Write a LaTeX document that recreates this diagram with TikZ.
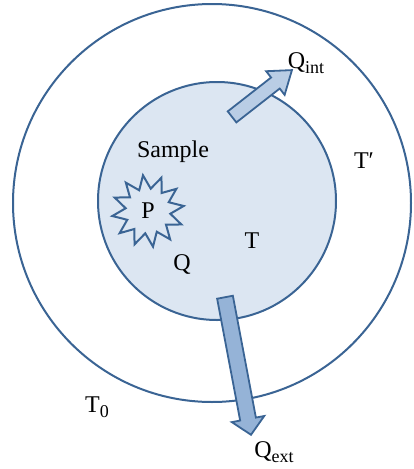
\documentclass[tikz,border=0pt]{standalone}
\usepackage{fontspec}
\setmainfont{Liberation Serif}
\usetikzlibrary{shapes.geometric}
\definecolor{edgeblue}{RGB}{58,100,148}
\definecolor{samplefill}{RGB}{220,230,242}
\definecolor{intfill}{RGB}{185,205,229}
\definecolor{extfill}{RGB}{149,179,215}
\newcommand{\subtxt}[1]{\raisebox{-0.22em}{\fontsize{18}{20}\selectfont #1}}
\tikzset{
  rim/.style={draw=edgeblue, line width=2pt},
  lbl/.style={anchor=base, inner sep=0pt, font=\fontsize{24}{28}\selectfont},
  burst/.style={rim, star, star points=12, star point ratio=1.6, minimum size=72pt, inner sep=0pt, font=\fontsize{24}{28}\selectfont}
}
\begin{document}
\begin{tikzpicture}[x=1pt, y=-1pt]
  \useasboundingbox (0,0) rectangle (414,469);
  % enclosure and sample
  \draw[rim] (212,203) circle (199);
  \draw[rim, fill=samplefill] (217,201) circle (119);
  % heat flow arrows
  \begin{scope}[shift={(262,93.5)}, rotate=38]
    \draw[rim, line width=1.8pt, line join=miter, fill=intfill]
      (-38,-7) -- (17,-7) -- (17,-15) -- (38,0) -- (17,15) -- (17,7) -- (-38,7) -- cycle;
  \end{scope}
  \begin{scope}[shift={(238,366)}, rotate=-79.3]
    \draw[rim, line width=1.8pt, line join=miter, fill=extfill]
      (-70,-8) -- (54,-8) -- (54,-16.5) -- (70,0) -- (54,16.5) -- (54,8) -- (-70,8) -- cycle;
  \end{scope}
  % source
  \node[burst, rotate=8] (P) at (148,211) {\rotatebox{-8}{P}};
  % labels
  \node[lbl] (sample) at (173,157) {Sample};
  \node[lbl] (T) at (252,248) {T};
  \node[lbl] (Q) at (182,270) {Q};
  \node[lbl] (Tp) at (364,168) {T′};
  \node[lbl] (T0) at (97,412) {T\subtxt{0}};
  \node[lbl] (Qint) at (306,68) {Q\subtxt{int}};
  \node[lbl] (Qext) at (274,457) {Q\subtxt{ext}};
\end{tikzpicture}
\end{document}
